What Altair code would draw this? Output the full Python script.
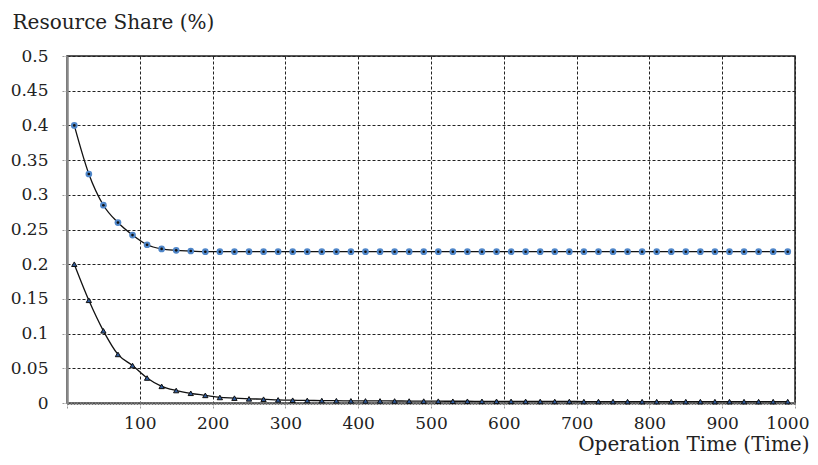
import altair as alt
import pandas as pd

time_points = [10, 30, 50, 70, 90, 110, 130, 150, 170, 190,
               210, 230, 250, 270, 290, 310, 330, 350, 370, 390,
               410, 430, 450, 470, 490, 510, 530, 550, 570, 590,
               610, 630, 650, 670, 690, 710, 730, 750, 770, 790,
               810, 830, 850, 870, 890, 910, 930, 950, 970, 990]

share_circle = [0.400, 0.330, 0.285, 0.260, 0.242, 0.228, 0.222, 0.220, 0.219, 0.218,
                0.218, 0.218, 0.218, 0.218, 0.218, 0.218, 0.218, 0.218, 0.218, 0.218,
                0.218, 0.218, 0.218, 0.218, 0.218, 0.218, 0.218, 0.218, 0.218, 0.218,
                0.218, 0.218, 0.218, 0.218, 0.218, 0.218, 0.218, 0.218, 0.218, 0.218,
                0.218, 0.218, 0.218, 0.218, 0.218, 0.218, 0.218, 0.218, 0.218, 0.218]

share_triangle = [0.200, 0.148, 0.104, 0.070, 0.054, 0.036, 0.024, 0.018, 0.014, 0.011,
                  0.008, 0.007, 0.006, 0.0055, 0.0045, 0.004, 0.0037, 0.0035, 0.0033, 0.0031,
                  0.003, 0.003, 0.0029, 0.0028, 0.0027, 0.0026, 0.0025, 0.0025, 0.0024, 0.0024,
                  0.0023, 0.0023, 0.0022, 0.0022, 0.0022, 0.0021, 0.0021, 0.0021, 0.002, 0.002,
                  0.002, 0.002, 0.002, 0.002, 0.002, 0.002, 0.002, 0.002, 0.002, 0.002]

x_ticks = [0, 100, 200, 300, 400, 500, 600, 700, 800, 900, 1000]
y_ticks = [0, 0.05, 0.1, 0.15, 0.2, 0.25, 0.3, 0.35, 0.4, 0.45, 0.5]

series = (["circle"] * len(time_points)) + (["triangle"] * len(time_points))
df = pd.DataFrame({
    "t": time_points + time_points,
    "v": share_circle + share_triangle,
    "s": series,
})

FONT = "DejaVu Serif"

x_enc = alt.X("t:Q", scale=alt.Scale(domain=[0, 1000], nice=False),
              axis=alt.Axis(values=x_ticks, format="d", title="Operation Time (Time)",
                            labelExpr="datum.value == 0 ? '' : datum.label",
                            labelOverlap=False, labelFlush=True, labelFlushOffset=14,
                            titleAlign="right", titleAnchor="end",
                            titleX=742, titleY=47, titleBaseline="alphabetic",
                            titleFontSize=20))

y_enc = alt.Y("v:Q", scale=alt.Scale(domain=[0, 0.5], nice=False),
              axis=alt.Axis(values=y_ticks, format=".2~f", title="Resource Share (%)",
                            labelOverlap=False, labelFlush=False,
                            domainColor="#888", domainWidth=2.5, domainDash=[],
                            tickSize=6, labelPadding=13,
                            titleAngle=0, titleAlign="left",
                            titleX=-55, titleY=-28, titleBaseline="alphabetic",
                            titleFontSize=20))

base = alt.Chart(df)

line = base.mark_line(color="#111", strokeWidth=1.3, interpolate="monotone").encode(
    detail="s:N")
pts_c = base.transform_filter("datum.s == 'circle'").mark_point(
    shape="circle", filled=True, color="#4f86c9", size=45, opacity=1)
dot_c = base.transform_filter("datum.s == 'circle'").mark_point(
    shape="circle", filled=True, color="#111", size=7, opacity=1)
pts_t = base.transform_filter("datum.s == 'triangle'").mark_point(
    shape="triangle-up", filled=True, fill="#2f5a9a", stroke="#111",
    strokeWidth=1, size=28, opacity=1)

chart = alt.layer(line, pts_c, dot_c, pts_t).encode(x=x_enc, y=y_enc).properties(
    width=728, height=347,
    autosize=alt.AutoSizeParams(type="none"),
    padding={"left": 59, "top": 48, "right": 15, "bottom": 54},
).configure(
    background="white", font=FONT
).configure_axis(
    labelFont=FONT, titleFont=FONT, labelFontSize=17, titleFontWeight="normal",
    labelColor="#222", titleColor="#222",
    grid=True, gridDash=[3, 2], gridColor="#222", gridWidth=1,
    domainColor="#777", domainWidth=3, domainDash=[2, 1],
    tickColor="#999", tickSize=5, tickDash=[2, 1], labelPadding=7,
).configure_view(stroke="#222", strokeWidth=1.5)

chart.save("out.html", embed_options={"renderer": "svg", "actions": False})
